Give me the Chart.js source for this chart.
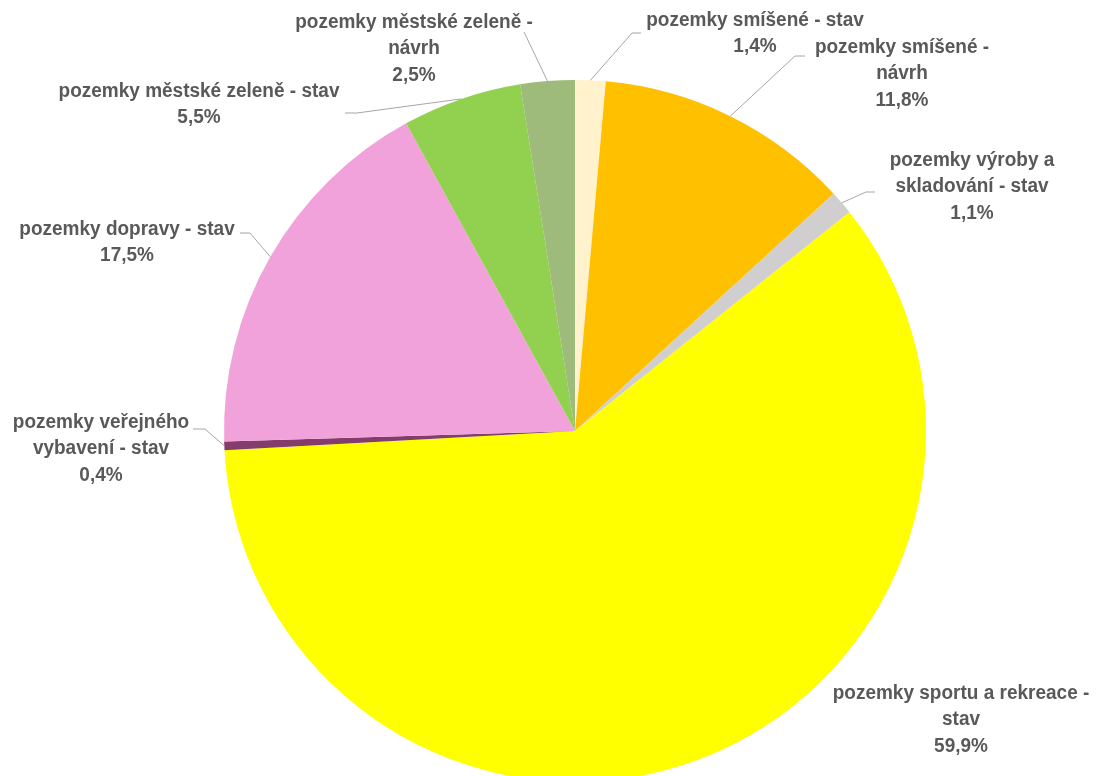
<!DOCTYPE html>
<html>
<head>
<meta charset="utf-8">
<script src="https://cdn.jsdelivr.net/npm/chart.js@4.4.1/dist/chart.umd.min.js"></script>
<style>
  html, body { margin: 0; padding: 0; background: #fff; overflow: hidden; }
  #wrap { width: 1100px; height: 800px; position: relative; }
</style>
</head>
<body>
<div id="wrap"><canvas id="pie"></canvas></div>
<script>
// ---------- data ----------
const categories = [
  'pozemky smíšené - stav',
  'pozemky smíšené - návrh',
  'pozemky výroby a skladování - stav',
  'pozemky sportu a rekreace - stav',
  'pozemky veřejného vybavení - stav',
  'pozemky dopravy - stav',
  'pozemky městské zeleně - stav',
  'pozemky městské zeleně - návrh'
];
const shares = [1.4, 11.8, 1.1, 59.9, 0.4, 17.5, 5.5, 2.5];
const sliceColors = ['#FFF2CC', '#FFC000', '#D0CECE', '#FFFF00', '#843C6C', '#F2A2DB', '#92D050', '#9EBB7C'];

// how each category label wraps (as in the original)
const labelLines = [
  ['pozemky smíšené - stav'],
  ['pozemky smíšené -', 'návrh'],
  ['pozemky výroby a', 'skladování - stav'],
  ['pozemky sportu a rekreace -', 'stav'],
  ['pozemky veřejného', 'vybavení - stav'],
  ['pozemky dopravy - stav'],
  ['pozemky městské zeleně - stav'],
  ['pozemky městské zeleně -', 'návrh']
];

// label placement (text centre x, first line y) and leader line knee / end
const labelLayout = [
  { x: 755, y: 20,  knee: [632, 33],  end: [641, 33] },
  { x: 902, y: 47,  knee: [795, 56],  end: [805, 56] },
  { x: 972, y: 160, knee: [866, 192], end: [875, 192] },
  { x: 961, y: 693, knee: null,       end: null },
  { x: 101, y: 422, knee: [205, 429], end: [193, 429] },
  { x: 127, y: 229, knee: [250, 233], end: [240, 233] },
  { x: 199, y: 91,  knee: [357, 113], end: [345, 113] },
  { x: 414, y: 22,  knee: null,       end: [524, 32] }
];

const fmtPct = (v) => v.toFixed(1).replace('.', ',') + '%';

// ---------- labels plugin ----------
const pieLabels = {
  id: 'pieLabels',
  afterDatasetsDraw(chart) {
    const ctx = chart.ctx;
    const meta = chart.getDatasetMeta(0);
    ctx.save();

    // leader lines
    ctx.strokeStyle = '#A6A6A6';
    ctx.lineWidth = 1;
    meta.data.forEach((arc, i) => {
      const lay = labelLayout[i];
      if (!lay.end) return;
      const p = arc.getProps(['x', 'y', 'startAngle', 'endAngle', 'outerRadius'], true);
      const mid = (p.startAngle + p.endAngle) / 2;
      const ax = p.x + Math.cos(mid) * p.outerRadius;
      const ay = p.y + Math.sin(mid) * p.outerRadius;
      ctx.beginPath();
      ctx.moveTo(ax, ay);
      if (lay.knee) ctx.lineTo(lay.knee[0], lay.knee[1]);
      ctx.lineTo(lay.end[0], lay.end[1]);
      ctx.stroke();
    });

    // texts (bold sans, slightly squeezed like the original)
    ctx.fillStyle = '#595959';
    ctx.font = 'bold 20px "Liberation Sans", Arial, sans-serif';
    ctx.textAlign = 'center';
    ctx.textBaseline = 'middle';
    const lh = 26.5;
    const squeeze = 0.95;
    labelLines.forEach((lines, i) => {
      const lay = labelLayout[i];
      const all = lines.concat([fmtPct(shares[i])]);
      all.forEach((t, k) => {
        ctx.save();
        ctx.translate(lay.x, lay.y + k * lh);
        ctx.scale(squeeze, 1);
        ctx.fillText(t, 0, 0);
        ctx.restore();
      });
    });
    ctx.restore();
  }
};

new Chart(document.getElementById('pie'), {
  type: 'pie',
  data: {
    labels: categories,
    datasets: [{
      data: shares,
      backgroundColor: sliceColors,
      borderWidth: 0
    }]
  },
  options: {
    responsive: true,
    maintainAspectRatio: false,
    animation: false,
    layout: { padding: { left: 224, right: 174, top: 80, bottom: 18 } },
    plugins: {
      legend: { display: false },
      tooltip: { enabled: false }
    }
  },
  plugins: [pieLabels]
});
</script>
</body>
</html>
